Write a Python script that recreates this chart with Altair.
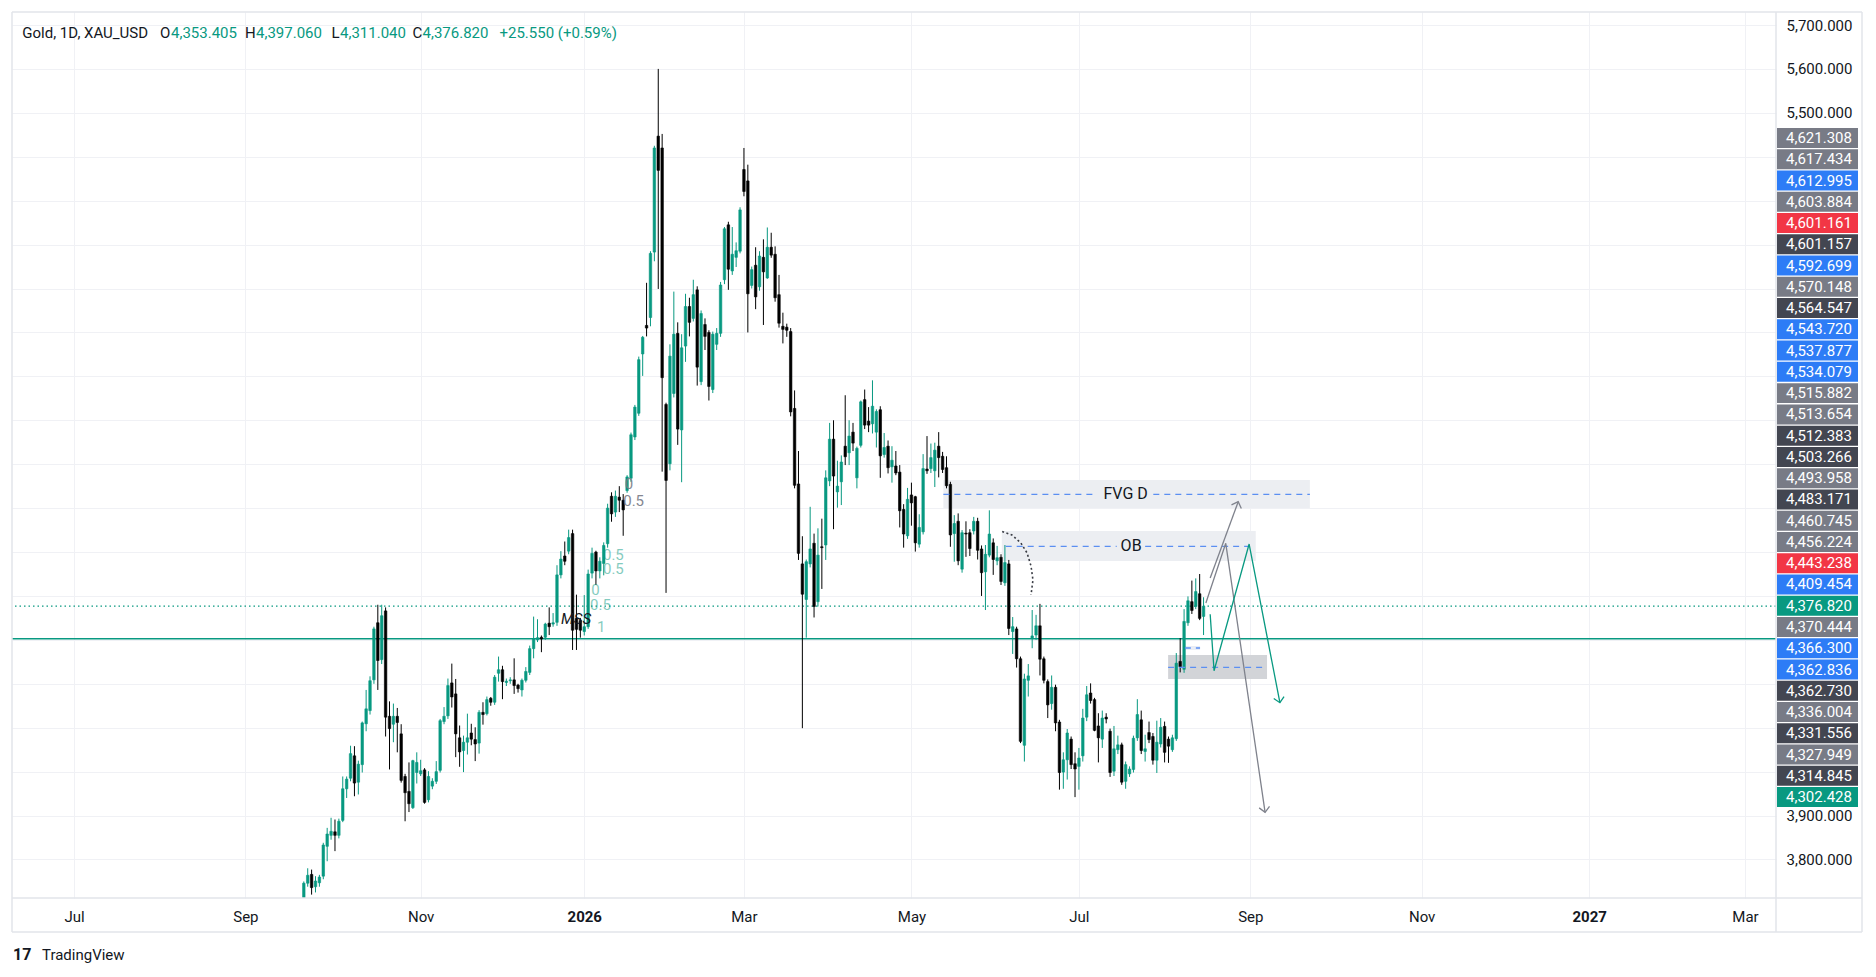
import math
import altair as alt
import pandas as pd

# ---------------- candle data (daily bars, bar index counted from 1 Jul 2025) ----------------
FIRST_BAR = 59
open_ = [
    3686, 3746, 3766, 3738, 3747, 3762, 3830, 3855, 3863, 3855,
    3889, 3961, 3985, 4036, 3976, 4016, 4109, 4139, 4209, 4339,
    4255, 4366, 4126, 4108, 4126, 4086, 3989, 3955, 3918, 3998,
    3995, 4004, 3936, 3967, 3978, 4003, 4114, 4127, 4202, 4177,
    4077, 4048, 4067, 4088, 4073, 4065, 4135, 4132, 4167, 4158,
    4224, 4232, 4203, 4207, 4209, 4197, 4186, 4208, 4226, 4280,
    4300, 4306, 4306, 4338, 4336, 4340, 4448, 4491, 4502, 4542,
    4349, 4344, 4319, 4330, 4452, 4500, 4457, 4474, 4519, 4627,
    4591, 4625, 4618, 4640, 4668, 4762, 4816, 4951, 5016, 5034,
    5183, 5447, 5420, 4836, 4701, 4861, 4998, 4778, 4969, 5059,
    5032, 5097, 4888, 5018, 5000, 4870, 4973, 4998, 5120, 5245,
    5140, 5171, 5185, 5371, 5345, 5107, 5153, 5104, 5171, 5124,
    5194, 5178, 5086, 5014, 5012, 5002, 4827, 4655, 4473, 4392,
    4473, 4520, 4387, 4512, 4516, 4662, 4757, 4637, 4660, 4741,
    4726, 4773, 4669, 4743, 4847, 4798, 4792, 4773, 4824, 4722,
    4741, 4694, 4696, 4682, 4597, 4537, 4630, 4626, 4518, 4546,
    4689, 4690, 4685, 4741, 4718, 4692, 4654, 4542, 4570, 4461,
    4543, 4544, 4548, 4570, 4507, 4455, 4493, 4521, 4480, 4488,
    4430, 4473, 4319, 4325, 4257, 4060, 4208, 4303, 4311, 4332,
    4257, 4205, 4155, 4192, 4113, 3999, 4027, 4074, 4018, 4012,
    4036, 4124, 4179, 4164, 4104, 4074, 4124, 4092, 4001, 4050,
    4061, 3978, 3995, 4005, 4077, 4118, 4046, 4089, 4080, 4026,
    4063, 4103, 4074, 4050, 4075, 4251, 4233, 4339, 4387, 4376,
    4405, 4353.405,
]
high = [
    3750, 3780, 3777, 3762, 3765, 3838, 3872, 3895, 3891, 3893,
    3989, 3989, 4059, 4058, 4025, 4114, 4186, 4217, 4330, 4380,
    4380, 4374, 4160, 4155, 4145, 4108, 3995, 4021, 4027, 4044,
    4027, 4008, 4001, 3985, 4024, 4120, 4147, 4212, 4246, 4211,
    4105, 4082, 4132, 4109, 4101, 4140, 4158, 4171, 4170, 4220,
    4262, 4241, 4212, 4215, 4258, 4200, 4212, 4238, 4287, 4353,
    4347, 4310, 4339, 4374, 4361, 4470, 4502, 4524, 4551, 4551,
    4403, 4350, 4402, 4460, 4510, 4503, 4488, 4522, 4610, 4636,
    4640, 4650, 4632, 4675, 4772, 4835, 4945, 4992, 5113, 5185,
    5425, 5600, 5452, 4840, 4973, 5093, 5023, 4996, 5088, 5079,
    5120, 5105, 5050, 5032, 5005, 5002, 5010, 5115, 5240, 5252,
    5240, 5205, 5285, 5420, 5382, 5150, 5194, 5185, 5212, 5239,
    5227, 5196, 5131, 5045, 5020, 5010, 4868, 4730, 4536, 4483,
    4603, 4542, 4554, 4576, 4686, 4794, 4800, 4708, 4720, 4857,
    4800, 4794, 4740, 4845, 4870, 4830, 4891, 4825, 4832, 4771,
    4754, 4741, 4730, 4698, 4609, 4646, 4658, 4628, 4586, 4723,
    4764, 4747, 4749, 4773, 4728, 4718, 4660, 4584, 4588, 4550,
    4570, 4552, 4580, 4578, 4515, 4516, 4595, 4531, 4514, 4495,
    4516, 4482, 4352, 4330, 4262, 4223, 4245, 4368, 4357, 4382,
    4262, 4210, 4219, 4198, 4118, 4044, 4097, 4080, 4044, 4054,
    4143, 4195, 4201, 4168, 4133, 4139, 4133, 4098, 4104, 4082,
    4066, 4023, 4012, 4082, 4165, 4139, 4084, 4114, 4088, 4116,
    4122, 4114, 4080, 4084, 4270, 4304, 4370, 4399, 4435, 4440,
    4450, 4397.06,
]
low = [
    3684, 3738, 3720, 3725, 3738, 3755, 3796, 3845, 3819, 3848,
    3885, 3940, 3978, 3944, 3948, 3998, 4092, 4130, 4200, 4186,
    4245, 4080, 4005, 4067, 4044, 3975, 3887, 3908, 3915, 3973,
    3990, 3927, 3930, 3960, 3972, 3998, 4108, 4120, 4146, 4033,
    4011, 3999, 4039, 4060, 4024, 4041, 4107, 4128, 4150, 4152,
    4205, 4165, 4195, 4200, 4177, 4180, 4171, 4203, 4220, 4258,
    4295, 4272, 4300, 4311, 4330, 4332, 4440, 4470, 4495, 4277,
    4277, 4305, 4310, 4325, 4440, 4425, 4440, 4447, 4510, 4569,
    4580, 4591, 4537, 4635, 4660, 4755, 4810, 4901, 4991, 5014,
    5162, 5099, 4683, 4407, 4686, 4852, 4744, 4659, 4933, 4991,
    5025, 4879, 4880, 4960, 4845, 4862, 4960, 4990, 5110, 5097,
    5131, 5149, 5180, 5310, 5000, 5100, 5053, 5095, 5017, 5122,
    5170, 5070, 5011, 4975, 4990, 4809, 4645, 4482, 4099, 4305,
    4465, 4351, 4376, 4416, 4482, 4650, 4552, 4601, 4607, 4698,
    4698, 4730, 4645, 4738, 4780, 4773, 4770, 4738, 4669, 4715,
    4679, 4658, 4675, 4556, 4510, 4530, 4560, 4501, 4510, 4540,
    4678, 4680, 4648, 4670, 4680, 4645, 4512, 4478, 4470, 4453,
    4489, 4491, 4540, 4483, 4400, 4368, 4488, 4448, 4470, 4425,
    4423, 4311, 4268, 4237, 4065, 4023, 4171, 4281, 4300, 4219,
    4201, 4122, 4141, 4092, 3959, 3961, 3982, 4006, 3942, 3959,
    4023, 4115, 4155, 4092, 4021, 4054, 4110, 3988, 3990, 4040,
    3970, 3961, 3988, 3998, 4070, 4040, 4023, 4065, 4016, 3997,
    4055, 4021, 4020, 4045, 4070, 4226, 4225, 4332, 4359, 4370,
    4345, 4311.04,
]
close = [
    3746, 3764, 3736, 3751, 3760, 3833, 3858, 3864, 3855, 3887,
    3961, 3983, 4041, 3974, 4017, 4111, 4143, 4207, 4325, 4253,
    4355, 4124, 4098, 4126, 4112, 3980, 3952, 3927, 4025, 4021,
    4002, 3930, 3989, 3978, 4000, 4116, 4126, 4196, 4170, 4086,
    4045, 4067, 4077, 4074, 4063, 4135, 4130, 4164, 4158, 4215,
    4232, 4205, 4206, 4209, 4196, 4189, 4208, 4228, 4280, 4302,
    4305, 4302, 4336, 4330, 4339, 4448, 4484, 4479, 4533, 4322,
    4324, 4322, 4330, 4450, 4497, 4457, 4479, 4515, 4600, 4587,
    4627, 4618, 4596, 4671, 4767, 4830, 4938, 4989, 5010, 5180,
    5420, 5369, 4897, 4663, 4946, 4996, 4780, 4965, 5059, 5023,
    5086, 4921, 5043, 4991, 4877, 4996, 4998, 5108, 5236, 5144,
    5178, 5186, 5279, 5321, 5088, 5143, 5081, 5174, 5138, 5194,
    5176, 5079, 5021, 5007, 5005, 4819, 4652, 4497, 4404, 4478,
    4507, 4376, 4493, 4510, 4669, 4757, 4673, 4650, 4705, 4717,
    4764, 4748, 4736, 4842, 4789, 4789, 4832, 4820, 4719, 4738,
    4692, 4709, 4680, 4594, 4541, 4620, 4612, 4521, 4556, 4690,
    4685, 4715, 4732, 4715, 4688, 4651, 4539, 4565, 4480, 4544,
    4541, 4508, 4570, 4504, 4453, 4495, 4541, 4483, 4487, 4433,
    4476, 4326, 4330, 4257, 4069, 4211, 4218, 4309, 4332, 4256,
    4208, 4152, 4192, 4111, 3998, 4027, 4088, 4016, 4006, 4031,
    4122, 4175, 4162, 4094, 4077, 4122, 4120, 3998, 4052, 4061,
    3976, 4016, 4006, 4076, 4130, 4048, 4052, 4073, 4026, 4067,
    4101, 4044, 4058, 4077, 4247, 4239, 4342, 4389, 4367, 4410,
    4349, 4376.82,
]

# ---------------- axis data ----------------
month_ticks = [0, 44, 89, 131, 172, 215, 258, 302, 346, 389, 429]
month_labels = ["Jul", "Sep", "Nov", "2026", "Mar", "May", "Jul", "Sep", "Nov", "2027", "Mar"]
year_ticks = [131, 389]
price_grid = list(range(3800, 5800, 100))
price_labels_shown = [3800, 3900, 5500, 5600, 5700]

# ---------------- horizontal levels ----------------
level_solid = 4302.428
last_close = 4376.82

# ---------------- price tags on the right scale ----------------
tag_values = [4621.308, 4617.434, 4612.995, 4603.884, 4601.161, 4601.157, 4592.699, 4570.148,
              4564.547, 4543.720, 4537.877, 4534.079, 4515.882, 4513.654, 4512.383, 4503.266,
              4493.958, 4483.171, 4460.745, 4456.224, 4443.238, 4409.454, 4376.820, 4370.444,
              4366.300, 4362.836, 4362.730, 4336.004, 4331.556, 4327.949, 4314.845, 4302.428]
tag_kinds = ["gray", "gray", "blue", "gray", "red", "dark", "blue", "gray",
             "dark", "blue", "blue", "blue", "gray", "gray", "dark", "dark",
             "gray", "dark", "gray", "gray", "red", "blue", "green", "gray",
             "blue", "blue", "dark", "gray", "dark", "gray", "dark", "green"]

# ---------------- drawings (bar index, price) ----------------
light_boxes = {"x1": [223.2, 238.2], "x2": [317.3, 303.4], "y1": [4600.3, 4479.6], "y2": [4664.0, 4547.9]}
dark_box = {"x1": [280.9], "x2": [306.3], "y1": [4211.1], "y2": [4265.6]}
mini_box = {"x1": [285.2], "x2": [289.1], "y1": [4277.0], "y2": [4286.0]}
dash_x1 = [223.2, 277.1, 239.2, 275.0, 280.9, 285.2]
dash_x2 = [262.6, 317.3, 267.7, 301.9, 306.3, 289.1]
dash_y = [4631.4, 4631.4, 4513.1, 4513.1, 4237.6, 4281.5]
box_text = ["FVG D", "OB"]
box_text_x = [270.0, 271.4]
box_text_y = [4631.4, 4513.1]

gray_up_x = [291.7, 298.9]
gray_up_y = [4440.9, 4614.6]
gray_zig_x = [290.6, 295.7, 305.8]
gray_zig_y = [4384.0, 4519.9, 3907.4]
teal_zig_x = [291.7, 292.7, 301.7, 309.6]
teal_zig_y = [4358.2, 4229.8, 4518.3, 4157.0]
arc_x = [238.3, 240.8, 243.1, 244.7, 245.7, 246.2, 245.7]
arc_y = [4546.8, 4538.8, 4520.6, 4497.8, 4468.2, 4436.3, 4402.2]

fib_gray_t = ["0", "0.5"]
fib_gray_x = [141.4, 141.0]
fib_gray_y = [4655, 4617]
fib_teal_t = ["0.5", "0.5", "0", "0.5", "1"]
fib_teal_x = [135.8, 135.8, 132.8, 132.5, 134.3]
fib_teal_y = [4494, 4461, 4413, 4380, 4330]
mss_x, mss_y = 128.9, 4347

header_parts = ["Gold, 1D, XAU_USD", "O", "4,353.405", "H", "4,397.060", "L", "4,311.040",
                "C", "4,376.820", "+25.550 (+0.59%)"]
header_is_value = [False, False, True, False, True, False, True, False, True, True]

# ---------------- styling ----------------
TEAL = "#089981"
DOWN = "#000000"
INK = "#131722"
GRID = "#f0f1f5"
FRAME = "#e2e4ea"
DASH_BLUE = "#5b8ff2"
FONT = "Roboto"
W, H = 1764, 886
X_DOM = [-15.92, 436.97]
Y_DOM = [3712.3, 5729.6]
TAG_DOM = [-5.927, 35.748]
header_px = [22.3, 160.0, 171.0, 245.0, 256.0, 331.5, 340.0, 412.5, 422.5, 499.5]

xs = alt.Scale(domain=X_DOM, nice=False, zero=False)
ys = alt.Scale(domain=Y_DOM, nice=False, zero=False)
candle_colors = alt.Scale(domain=["up", "down"], range=[TEAL, DOWN])

bars = pd.DataFrame({"i": list(range(FIRST_BAR, FIRST_BAR + len(close))),
                     "o": open_, "h": high, "l": low, "c": close})
bars["dir"] = ["up" if c >= o else "down" for o, c in zip(open_, close)]
bars["top"] = bars[["o", "c"]].max(axis=1)
bars["bot"] = bars[["o", "c"]].min(axis=1)
bars["x1"] = bars["i"] - 0.32
bars["x2"] = bars["i"] + 0.32

x_label_expr = "".join(f"datum.value == {t} ? '{l}' : " for t, l in zip(month_ticks, month_labels)) + "''"
y_label_expr = ("indexof([" + ",".join(str(v) for v in price_labels_shown) +
                "], datum.value) >= 0 ? format(datum.value, ',.3f') : ''")
year_test = " || ".join(f"datum.value == {t}" for t in year_ticks)

XA = alt.Axis(values=month_ticks, labelExpr=x_label_expr, grid=True, gridColor=GRID,
              gridWidth=1, ticks=False, domain=False, labelFont=FONT, labelFontSize=15,
              labelColor=INK, labelPadding=18, labelBaseline="middle", labelFlush=False,
              labelOverlap=False, title=None,
              labelFontWeight={"condition": {"test": year_test, "value": "bold"}, "value": "normal"})
YA = alt.Axis(orient="right", values=price_grid, labelExpr=y_label_expr, grid=True,
              gridColor=GRID, gridWidth=1, ticks=False, domain=False, labelFont=FONT,
              labelFontSize=15, labelColor=INK, labelPadding=10, labelAlign="left",
              labelOverlap=False, title=None)


def X(field):
    return alt.X(field, scale=xs, axis=XA)


def Y(field):
    return alt.Y(field, scale=ys, axis=YA)


one = pd.DataFrame({"k": [0]})


def boxes(d, color):
    return alt.Chart(pd.DataFrame(d)).mark_rect(color=color).encode(
        x=X("x1:Q"), x2="x2:Q", y=Y("y1:Q"), y2="y2:Q")


def poly(xv, yv, color, width=1.3, dash=None):
    df = pd.DataFrame({"x": xv, "y": yv, "k": list(range(len(xv)))})
    kw = {"strokeDash": dash} if dash else {}
    return alt.Chart(df).mark_line(color=color, strokeWidth=width, **kw).encode(
        x=X("x:Q"), y=Y("y:Q"), order="k:Q")


def head(xv, yv, color):
    px_x = W / (X_DOM[1] - X_DOM[0])
    px_y = H / (Y_DOM[1] - Y_DOM[0])
    dx = (xv[-1] - xv[-2]) * px_x
    dy = -(yv[-1] - yv[-2]) * px_y
    ang = math.degrees(math.atan2(dx, -dy)) % 360
    df = pd.DataFrame({"x": [xv[-1]], "y": [yv[-1]], "a": [ang]})
    return alt.Chart(df).mark_point(shape="M -1 1 L 0 0 L 1 1", filled=False, size=110,
                                    strokeWidth=1.3, color=color, opacity=1).encode(
        x=X("x:Q"), y=Y("y:Q"), angle=alt.Angle("a:Q", scale=None))


def texts(tv, xv, yv, color, size=15, opacity=1.0, align="left", style="normal"):
    df = pd.DataFrame({"t": tv, "x": xv, "y": yv})
    return alt.Chart(df).mark_text(align=align, baseline="middle", font=FONT, fontSize=size,
                                   color=color, opacity=opacity, fontStyle=style).encode(
        x=X("x:Q"), y=Y("y:Q"), text="t:N")


def fixed_text(txt, px, py, color, size=15, weight="normal"):
    return alt.Chart(one).mark_text(text=txt, align="left", baseline="middle", font=FONT,
                                    fontSize=size, color=color, fontWeight=weight).encode(
        x=alt.value(px - 12), y=alt.value(py - 12))


def frame_rule(x1, x2, y1, y2):
    return alt.Chart(one).mark_rule(color=FRAME, strokeWidth=1.5).encode(
        x=alt.value(x1), x2=alt.value(x2), y=alt.value(y1), y2=alt.value(y2))


light = boxes(light_boxes, "#eceef2")
darkb = boxes(dark_box, "#d2d4d8")
minib = boxes(mini_box, "#e9edf6")

dashes = alt.Chart(pd.DataFrame({"x1": dash_x1, "x2": dash_x2, "y": dash_y})).mark_rule(
    color=DASH_BLUE, strokeWidth=1.3, strokeDash=[6, 5]).encode(
    x=X("x1:Q"), x2="x2:Q", y=Y("y:Q"))

solid_line = alt.Chart(pd.DataFrame({"y": [level_solid]})).mark_rule(
    color=TEAL, strokeWidth=1.5).encode(y=Y("y:Q"))
dotted_line = alt.Chart(pd.DataFrame({"y": [last_close]})).mark_rule(
    color=TEAL, strokeWidth=1.2, strokeDash=[1.5, 3]).encode(y=Y("y:Q"))

wicks = alt.Chart(bars).mark_rule(strokeWidth=1, clip=True).encode(
    x=X("i:Q"), y=Y("l:Q"), y2="h:Q",
    stroke=alt.Stroke("dir:N", scale=candle_colors, legend=None))
bodies = alt.Chart(bars).mark_rect(strokeWidth=0.6, clip=True).encode(
    x=X("x1:Q"), x2="x2:Q", y=Y("bot:Q"), y2="top:Q",
    fill=alt.Fill("dir:N", scale=candle_colors, legend=None),
    stroke=alt.Stroke("dir:N", scale=candle_colors, legend=None))

GRAYL = "#7f828c"
layers = [
    light, darkb, minib, solid_line, dotted_line, wicks, bodies, dashes,
    texts(box_text, box_text_x, box_text_y, INK, size=16, align="center"),
    poly(arc_x, arc_y, "#3a3d45", width=1.6, dash=[2, 2.5]),
    poly(gray_up_x, gray_up_y, GRAYL), head(gray_up_x, gray_up_y, GRAYL),
    poly(gray_zig_x, gray_zig_y, GRAYL), head(gray_zig_x, gray_zig_y, GRAYL),
    poly(teal_zig_x, teal_zig_y, TEAL), head(teal_zig_x, teal_zig_y, TEAL),
    texts(fib_gray_t, fib_gray_x, fib_gray_y, "#787b86", size=15, opacity=0.9),
    texts(fib_teal_t, fib_teal_x, fib_teal_y, TEAL, size=15, opacity=0.5),
    texts(["MSS"], [mss_x], [mss_y], INK, size=15, align="center", style="italic"),
]
for txt, px, val in zip(header_parts, header_px, header_is_value):
    layers.append(fixed_text(txt, px, 33, TEAL if val else INK))
layers.append(fixed_text("17", 13, 955, INK, size=16, weight="bold"))
layers.append(fixed_text("TradingView", 42, 955, INK, size=15))
# outer frame and panel separators
layers += [
    frame_rule(0, 1850, 0, 0), frame_rule(0, 1850, 920, 920),
    frame_rule(0, 0, 0, 920), frame_rule(1850, 1850, 0, 920),
    frame_rule(0, 1850, 886, 886), frame_rule(1764, 1764, 0, 920),
]
main = alt.layer(*layers)

tag_colors = {"gray": "#787b86", "blue": "#2d7cf6", "red": "#f23645", "dark": "#434651", "green": TEAL}
tags_df = pd.DataFrame({"slot": list(range(len(tag_values))), "v": tag_values, "kind": tag_kinds})
tags_df["s1"] = tags_df["slot"] - 0.47
tags_df["s2"] = tags_df["slot"] + 0.47
tag_scale = alt.Scale(domain=TAG_DOM, reverse=True, nice=False, zero=False)
kinds = list(tag_colors.keys())
tag_rect = alt.Chart(tags_df).mark_rect().encode(
    x=alt.value(1765), x2=alt.value(1846),
    y=alt.Y("s1:Q", scale=tag_scale, axis=None), y2="s2:Q",
    fill=alt.Fill("kind:N", scale=alt.Scale(domain=kinds, range=[tag_colors[k] for k in kinds]), legend=None))
tag_text = alt.Chart(tags_df).mark_text(align="left", baseline="middle", font=FONT, fontSize=15,
                                        color="#ffffff").encode(
    x=alt.value(1774), y=alt.Y("slot:Q", scale=tag_scale, axis=None),
    text=alt.Text("v:Q", format=",.3f"))
tags = alt.layer(tag_rect, tag_text)

chart = alt.layer(main, tags).resolve_scale(y="independent", fill="independent").properties(
    width=W, height=H,
    padding={"left": 4, "top": 4, "right": 92, "bottom": 66},
    autosize=alt.AutoSizeParams(type="none"),
    background="white",
).configure_view(strokeWidth=0)

chart.save("out.html", embed_options={"renderer": "svg", "actions": False})
